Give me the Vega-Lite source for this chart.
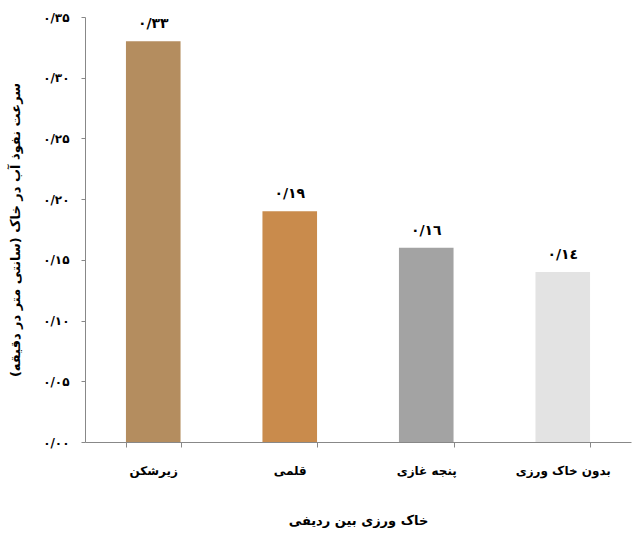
{
  "$schema": "https://vega.github.io/schema/vega-lite/v6.json",
  "autosize": "none",
  "width": 546,
  "height": 425,
  "padding": {"left": 85, "top": 17, "right": 7, "bottom": 92},
  "background": "white",
  "config": {
    "view": {"stroke": null},
    "font": "DejaVu Sans"
  },
  "data": {
    "values": [
      {"treatment": "زیرشکن", "rate": 0.33, "label": "۰/۳۳", "fill": "#b48d5f"},
      {"treatment": "قلمی", "rate": 0.19, "label": "۰/۱۹", "fill": "#c98b4c"},
      {"treatment": "پنجه غازی", "rate": 0.16, "label": "۰/۱٦", "fill": "#a3a3a3"},
      {"treatment": "بدون خاک ورزی", "rate": 0.14, "label": "۰/۱٤", "fill": "#e3e3e3"}
    ]
  },
  "encoding": {
    "x": {
      "field": "treatment",
      "type": "nominal",
      "sort": null,
      "scale": {"paddingInner": 0.6, "paddingOuter": 0.3},
      "axis": {
        "title": "خاک ورزی بین ردیفی",
        "titleFont": "DejaVu Sans",
        "titleFontSize": 13,
        "titleFontWeight": "bold",
        "titleColor": "#000",
        "titlePadding": 38,
        "labelAngle": 0,
        "labelFont": "DejaVu Sans",
        "labelFontSize": 12,
        "labelFontWeight": "bold",
        "labelColor": "#000",
        "labelPadding": 18,
        "tickBand": "extent",
        "tickSize": 5,
        "tickColor": "#888",
        "domainColor": "#888"
      }
    },
    "y": {
      "field": "rate",
      "type": "quantitative",
      "scale": {"domain": [0, 0.35], "nice": false},
      "axis": {
        "title": "سرعت نفوذ آب در خاک (سانتی متر در دقیقه)",
        "titleFont": "DejaVu Sans",
        "titleFontSize": 13,
        "titleFontWeight": "bold",
        "titleColor": "#000",
        "titlePadding": 20,
        "values": [0, 0.05, 0.1, 0.15, 0.2, 0.25, 0.3, 0.35],
        "labelExpr": "['۰/۰۰','۰/۰۵','۰/۱۰','۰/۱۵','۰/۲۰','۰/۲۵','۰/۳۰','۰/۳۵'][round(datum.value * 20)]",
        "labelFont": "DejaVu Sans",
        "labelFontSize": 12,
        "labelFontWeight": "bold",
        "labelColor": "#000",
        "labelPadding": 12,
        "tickSize": 4,
        "tickColor": "#888",
        "domainColor": "#888",
        "grid": false
      }
    }
  },
  "layer": [
    {
      "mark": {"type": "bar"},
      "encoding": {
        "color": {"field": "fill", "type": "nominal", "scale": null, "legend": null}
      }
    },
    {
      "mark": {
        "type": "text",
        "baseline": "bottom",
        "dy": -10,
        "font": "DejaVu Sans",
        "fontSize": 14,
        "fontWeight": "bold",
        "color": "#000"
      },
      "encoding": {
        "text": {"field": "label"}
      }
    }
  ]
}
